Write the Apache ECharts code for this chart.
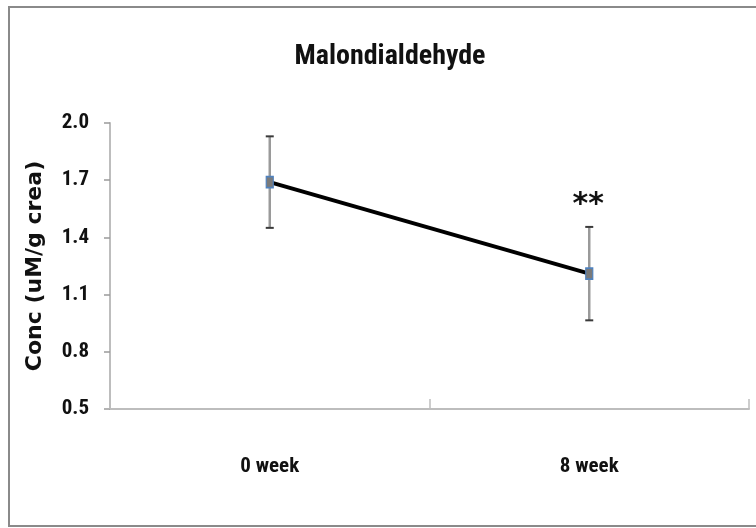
<!DOCTYPE html>
<html>
<head>
<meta charset="utf-8">
<script src="https://cdn.jsdelivr.net/npm/echarts@6/dist/echarts.min.js"></script>
<style>
  html, body { margin: 0; padding: 0; background: #fff; }
  #chart { width: 756px; height: 528px; }
</style>
</head>
<body>
<div id="chart"></div>
<script>
// Malondialdehyde concentration, mean ± SD at two time points
const categories = ['0 week', '8 week'];
const meanValues = [1.69, 1.21];
const sdValues = [0.24, 0.245];
const significance = ['', '**'];
const yTicks = [0.5, 0.8, 1.1, 1.4, 1.7, 2.0];

const narrow = '"Liberation Sans Narrow", "Roboto Condensed", "Liberation Sans", sans-serif';

const errorData = categories.map((c, i) => [i, meanValues[i] - sdValues[i], meanValues[i] + sdValues[i]]);

const chart = echarts.init(document.getElementById('chart'), null, { renderer: 'canvas' });

chart.setOption({
  backgroundColor: '#ffffff',
  animation: false,
  title: {
    text: 'Malondialdehyde',
    left: 385,
    top: 38,
    textAlign: 'center',
    textStyle: { fontFamily: narrow, fontWeight: 'bold', fontSize: 28, color: '#111' }
  },
  graphic: [{
    type: 'rect',
    shape: { x: 9, y: 7, width: 760, height: 519 },
    style: { fill: 'none', stroke: '#8a8a8a', lineWidth: 2 },
    silent: true,
    z: 0
  }],
  grid: { left: 110, right: 7, top: 123, bottom: 119 },
  xAxis: {
    type: 'category',
    data: categories,
    boundaryGap: true,
    axisLine: { lineStyle: { color: '#bdbdbd', width: 2 } },
    axisTick: { show: true, inside: true, length: 10, lineStyle: { color: '#bdbdbd', width: 1.5 } },
    axisLabel: { margin: 47, fontFamily: narrow, fontWeight: 'bold', fontSize: 21, color: '#111' },
    splitLine: { show: false }
  },
  yAxis: {
    type: 'value',
    min: 0.5,
    max: 2.0,
    name: 'Conc (uM/g crea)',
    nameLocation: 'middle',
    nameGap: 64,
    nameRotate: 90,
    nameTextStyle: { fontFamily: '"DejaVu Sans", Verdana, sans-serif', fontWeight: 'bold', fontSize: 22, color: '#111' },
    axisLine: { show: true, lineStyle: { color: '#bdbdbd', width: 2 } },
    axisTick: { show: true, length: 6, customValues: yTicks, lineStyle: { color: '#9a9a9a', width: 1.5 } },
    axisLabel: {
      margin: 21,
      customValues: yTicks,
      formatter: v => v.toFixed(1),
      fontFamily: narrow, fontWeight: 'bold', fontSize: 21, color: '#111'
    },
    splitLine: { show: false }
  },
  series: [
    {
      type: 'line',
      data: meanValues,
      symbol: 'rect',
      symbolSize: [7, 11],
      itemStyle: { color: '#7a7a7a', borderColor: '#4f81bd', borderWidth: 1.5 },
      lineStyle: { color: '#000', width: 4 },
      z: 3
    },
    {
      type: 'custom',
      data: errorData,
      z: 2,
      renderItem: function (params, api) {
        const x = api.coord([api.value(0), api.value(1)])[0];
        const lo = api.coord([api.value(0), api.value(1)])[1];
        const hi = api.coord([api.value(0), api.value(2)])[1];
        const label = significance[params.dataIndex];
        const children = [
          { type: 'line', shape: { x1: x, y1: lo, x2: x, y2: hi }, style: { stroke: '#9a9a9a', lineWidth: 2.5 } },
          { type: 'line', shape: { x1: x - 4, y1: hi, x2: x + 4, y2: hi }, style: { stroke: '#3a3a3a', lineWidth: 2 } },
          { type: 'line', shape: { x1: x - 4, y1: lo, x2: x + 4, y2: lo }, style: { stroke: '#3a3a3a', lineWidth: 2 } }
        ];
        if (label) {
          children.push({
            type: 'text',
            x: x - 1,
            y: hi - 22,
            style: {
              text: label, textAlign: 'center', textVerticalAlign: 'middle',
              font: 'bold 30px "DejaVu Sans", sans-serif', fill: '#111'
            }
          });
        }
        return { type: 'group', children: children };
      }
    }
  ]
});
</script>
</body>
</html>
